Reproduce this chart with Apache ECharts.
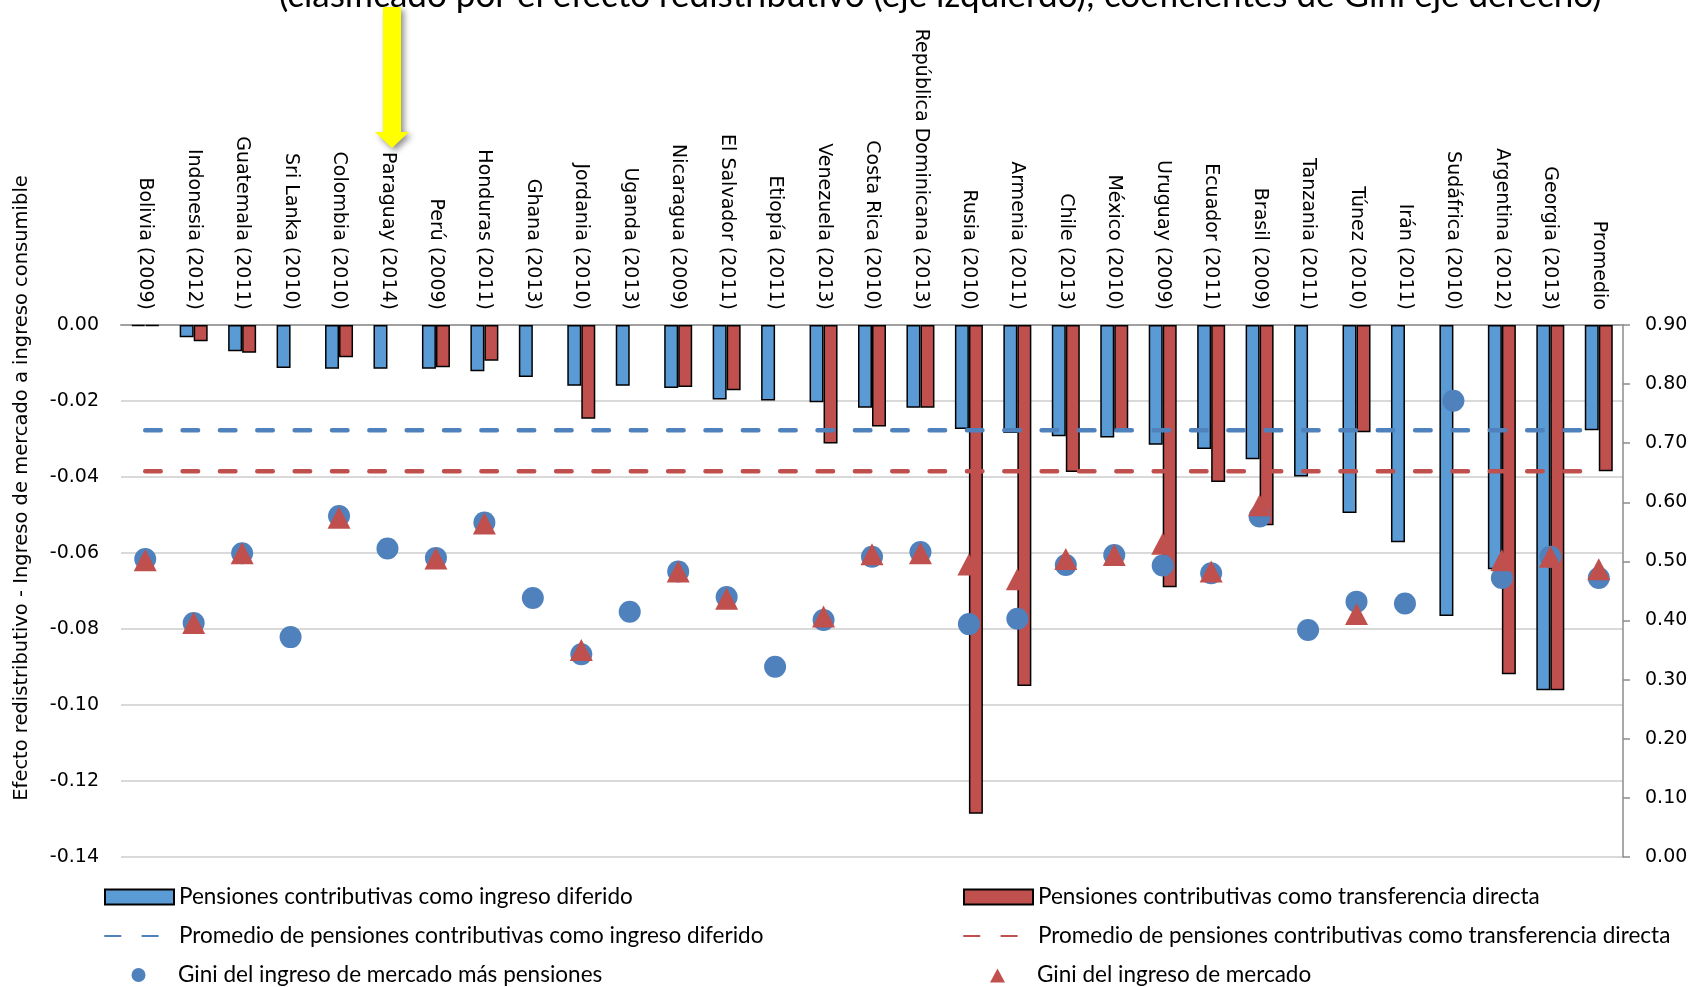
<!DOCTYPE html>
<html>
<head>
<meta charset="utf-8">
<title>Efecto redistributivo de las pensiones contributivas</title>
<script src="https://cdn.jsdelivr.net/npm/echarts@6/dist/echarts.min.js"></script>
<style>
  html, body { margin: 0; padding: 0; background: #ffffff; }
  #chart { width: 1701px; height: 987px; }
</style>
</head>
<body>
<div id="chart"></div>
<script>
// Countries (survey year), ordered by redistributive effect
const categories = [
  'Bolivia (2009)', 'Indonesia (2012)', 'Guatemala (2011)', 'Sri Lanka (2010)', 'Colombia (2010)',
  'Paraguay (2014)', 'Perú (2009)', 'Honduras (2011)', 'Ghana (2013)', 'Jordania (2010)',
  'Uganda (2013)', 'Nicaragua (2009)', 'El Salvador (2011)', 'Etiopía (2011)', 'Venezuela (2013)',
  'Costa Rica (2010)', 'República Dominicana (2013)', 'Rusia (2010)', 'Armenia (2011)', 'Chile (2013)',
  'México (2010)', 'Uruguay (2009)', 'Ecuador (2011)', 'Brasil (2009)', 'Tanzania (2011)',
  'Túnez (2010)', 'Irán (2011)', 'Sudáfrica (2010)', 'Argentina (2012)', 'Georgia (2013)', 'Promedio'
];

// Redistributive effect (left axis)
const ingresoDiferido = [
  -0.0003, -0.0032, -0.0069, -0.0113, -0.0115, -0.0115, -0.0115, -0.0122, -0.0137, -0.0160,
  -0.0160, -0.0166, -0.0196, -0.0199, -0.0203, -0.0218, -0.0218, -0.0274, -0.0284, -0.0293,
  -0.0296, -0.0315, -0.0326, -0.0353, -0.0399, -0.0495, -0.0572, -0.0766, -0.0643, -0.0961, -0.0277
];
const transferenciaDirecta = [
  -0.0002, -0.0043, -0.0073, null, -0.0085, null, -0.0111, -0.0094, null, -0.0247,
  null, -0.0163, -0.0172, null, -0.0312, -0.0267, -0.0218, -0.1286, -0.0950, -0.0387,
  -0.0280, -0.0690, -0.0413, -0.0527, null, -0.0282, null, null, -0.0919, -0.0961, -0.0385
];

// Averages drawn as horizontal dashed lines (same as the "Promedio" bars)
const promedioDiferido = -0.0277;
const promedioTransferencia = -0.0385;

// Gini coefficients (right axis)
const giniMasPensiones = [
  0.504, 0.396, 0.514, 0.372, 0.577, 0.522, 0.506, 0.566, 0.438, 0.343,
  0.415, 0.483, 0.440, 0.322, 0.401, 0.508, 0.516, 0.394, 0.403, 0.494,
  0.511, 0.493, 0.480, 0.576, 0.384, 0.432, 0.429, 0.772, 0.472, 0.508, 0.472
];
const giniMercado = [
  0.502, 0.396, 0.514, null, 0.574, null, 0.505, 0.564, null, 0.350,
  null, 0.483, 0.437, null, 0.407, 0.512, 0.514, 0.495, 0.470, 0.504,
  0.511, 0.530, 0.483, 0.595, null, 0.411, null, null, 0.502, 0.508, 0.487
];

const leftTicks = { min: -0.14, max: 0, interval: 0.02 };
const rightTicks = { min: 0, max: 0.9, interval: 0.1 };

const NAME_BAR_DIF = 'Pensiones contributivas como ingreso diferido';
const NAME_BAR_TRA = 'Pensiones contributivas como transferencia directa';
const NAME_AVG_DIF = 'Promedio de pensiones contributivas como ingreso diferido';
const NAME_AVG_TRA = 'Promedio de pensiones contributivas como transferencia directa';
const NAME_GINI_PEN = 'Gini del ingreso de mercado más pensiones';
const NAME_GINI_MER = 'Gini del ingreso de mercado';

const BLUE_BAR = '#5B9BD5';
const RED = '#C0504D';
const BLUE_MARK = '#4F81BD';
const TICK_FONT = 'DejaVu Sans';
const TEXT_FONT = 'Lato';

const chart = echarts.init(document.getElementById('chart'), null, { renderer: 'canvas' });

// dashed-line legend entries: hide the marker dot that line series add to their icon
const noDot = { color: 'rgba(0,0,0,0)', opacity: 0, borderWidth: 0 };
// small markers centred in the 69px icon slot (the two leading moves span the slot)
const TRIANGLE_ICON = 'path://M0,0 M69,15 M34.5,1 L42,15 L27,15 Z';
const CIRCLE_ICON = 'path://M0,0 M69,15 M27.5,7.5 A7,7 0 1,0 41.5,7.5 A7,7 0 1,0 27.5,7.5 Z';

// one legend per entry: two columns of three rows
function legendEntry(item, left, rowCenter) {
  return {
    left: left,
    top: rowCenter - 11.5,
    padding: 0,
    itemWidth: 69,
    itemHeight: 15,
    selectedMode: false,
    textStyle: { fontFamily: TEXT_FONT, fontSize: 22.5, color: '#000', lineHeight: 23 },
    data: [item]
  };
}
const legendRows = [897, 936, 975];
const legendCols = [104, 963];

const option = {
  animation: false,
  backgroundColor: '#ffffff',
  grid: { left: 121, right: 78, top: 325, bottom: 130, containLabel: false },
  legend: [
    legendEntry({ name: NAME_BAR_DIF, icon: 'rect' }, legendCols[0], legendRows[0]),
    legendEntry({ name: NAME_AVG_DIF, itemStyle: noDot }, legendCols[0], legendRows[1]),
    legendEntry({ name: NAME_GINI_PEN, icon: CIRCLE_ICON }, legendCols[0], legendRows[2]),
    legendEntry({ name: NAME_BAR_TRA, icon: 'rect' }, legendCols[1], legendRows[0]),
    legendEntry({ name: NAME_AVG_TRA, itemStyle: noDot }, legendCols[1], legendRows[1]),
    legendEntry({ name: NAME_GINI_MER, icon: TRIANGLE_ICON }, legendCols[1], legendRows[2])
  ],
  xAxis: {
    type: 'category',
    position: 'top',
    data: categories,
    axisTick: { show: false },
    axisLine: { lineStyle: { color: '#A0A0A0', width: 2 } },
    axisLabel: {
      interval: 0,
      rotate: -90,
      margin: 15,
      fontFamily: TICK_FONT,
      fontSize: 19,
      color: '#000'
    }
  },
  yAxis: [
    {
      type: 'value',
      min: leftTicks.min,
      max: leftTicks.max,
      interval: leftTicks.interval,
      axisLine: { show: false },
      axisTick: { show: false },
      axisLabel: {
        margin: 22,
        fontFamily: TICK_FONT,
        fontSize: 19,
        color: '#000',
        formatter: v => v.toFixed(2)
      },
      splitLine: { lineStyle: { color: '#D9D9D9', width: 2 } }
    },
    {
      type: 'value',
      position: 'right',
      min: rightTicks.min,
      max: rightTicks.max,
      interval: rightTicks.interval,
      axisLine: { show: true, lineStyle: { color: '#8C8C8C', width: 1.5 } },
      axisTick: { show: true, length: 7, lineStyle: { color: '#8C8C8C', width: 1.5 } },
      axisLabel: {
        margin: 22,
        fontFamily: TICK_FONT,
        fontSize: 19,
        color: '#000',
        formatter: v => v.toFixed(2)
      },
      splitLine: { show: false }
    }
  ],
  series: [
    {
      name: NAME_BAR_DIF,
      type: 'bar',
      data: ingresoDiferido,
      barWidth: 14,
      barGap: '0%',
      itemStyle: { color: BLUE_BAR, borderColor: '#000', borderWidth: 1.5 },
      z: 3
    },
    {
      name: NAME_BAR_TRA,
      type: 'bar',
      data: transferenciaDirecta,
      barWidth: 14,
      barGap: '0%',
      itemStyle: { color: RED, borderColor: '#000', borderWidth: 1.5 },
      z: 3
    },
    {
      name: NAME_AVG_DIF,
      type: 'line',
      data: categories.map(() => promedioDiferido),
      symbol: 'none',
      itemStyle: { color: BLUE_MARK },
      lineStyle: { color: BLUE_MARK, width: 4.5, type: [15.5, 21.85], cap: 'round' },
      z: 4
    },
    {
      name: NAME_AVG_TRA,
      type: 'line',
      data: categories.map(() => promedioTransferencia),
      symbol: 'none',
      itemStyle: { color: RED },
      lineStyle: { color: RED, width: 4.5, type: [15.5, 21.85], cap: 'round' },
      z: 4
    },
    {
      name: NAME_GINI_PEN,
      type: 'scatter',
      yAxisIndex: 1,
      symbol: 'circle',
      symbolSize: 22,
      itemStyle: { color: BLUE_MARK, opacity: 1 },
      data: giniMasPensiones,
      z: 5
    },
    {
      name: NAME_GINI_MER,
      type: 'scatter',
      yAxisIndex: 1,
      symbol: 'triangle',
      symbolSize: [23, 22],
      itemStyle: { color: RED, opacity: 1 },
      data: giniMercado,
      z: 6
    }
  ],
  graphic: [
    {
      type: 'text',
      silent: true,
      style: {
        text: '(clasificado por el efecto redistributivo (eje izquierdo); coeficientes de Gini eje derecho)',
        x: 279,
        y: 13.5,
        align: 'left',
        verticalAlign: 'bottom',
        fontFamily: TEXT_FONT,
        fontSize: 35,
        fill: '#000'
      }
    },
    {
      type: 'text',
      silent: true,
      x: 22,
      y: 488,
      rotation: Math.PI / 2,
      style: {
        text: 'Efecto redistributivo - Ingreso de mercado a ingreso consumible',
        x: 0,
        y: 0,
        align: 'center',
        verticalAlign: 'middle',
        fontFamily: TICK_FONT,
        fontSize: 19.5,
        fill: '#000'
      }
    },
    {
      type: 'polygon',
      silent: true,
      shape: {
        points: [[383, 7], [401, 7], [401, 132], [409, 132], [392, 148], [375, 132], [383, 132]]
      },
      style: {
        fill: '#FFFF00',
        shadowBlur: 6,
        shadowOffsetX: 3,
        shadowOffsetY: 3,
        shadowColor: 'rgba(0,0,0,0.45)'
      },
      z: 100
    }
  ]
};

chart.setOption(option);
</script>
</body>
</html>
